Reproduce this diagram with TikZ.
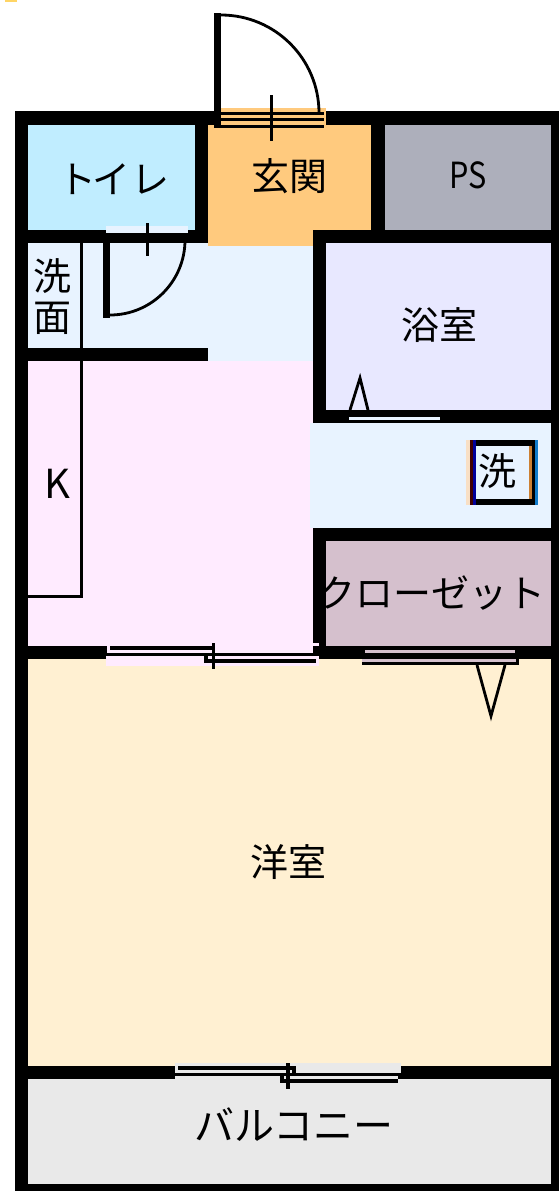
\documentclass[tikz,border=0pt]{standalone}
\usepackage{fontspec}
\setmainfont{Noto Sans CJK JP}
\definecolor{toiletc}{HTML}{C0EDFF}
\definecolor{genkanc}{HTML}{FFCA7E}
\definecolor{psc}{HTML}{ADAFBB}
\definecolor{bathc}{HTML}{E8E8FF}
\definecolor{hallc}{HTML}{E8F3FF}
\definecolor{kitc}{HTML}{FFEBFF}
\definecolor{closetc}{HTML}{D5C0CD}
\definecolor{roomc}{HTML}{FFF0D2}
\definecolor{balc}{HTML}{E9E9E9}
\tikzset{
  wall/.style={fill=black,draw=none},
  area/.style={draw=none},
  thinline/.style={draw=black,line width=3pt,line cap=butt},
  swing/.style={draw=black,line width=2.8pt},
  label/.style={inner sep=0pt,text=black,font=\fontsize{38}{38}\selectfont},
}
\begin{document}
\begin{tikzpicture}[x=1pt,y=-1pt]
\useasboundingbox (0,0) rectangle (559,1191);
% small mark at top left
\fill[fill=genkanc!80!yellow] (5,0) rectangle (17,2);
% outer wall
\fill[wall] (15,111) rectangle (559,1191);
% rooms
\fill[area,toiletc] (28,125) rectangle (195,230);
\fill[area,genkanc] (208,125) rectangle (371,246);
\fill[area,psc] (385,125) rectangle (551,230);
\fill[area,hallc] (28,243) rectangle (313,364);
\fill[area,genkanc] (208,125) rectangle (313,246);
\fill[area,kitc] (28,361) rectangle (313,646);
\fill[area,kitc] (208,364) rectangle (313,650);
\fill[area,kitc] (107,646) rectangle (319,659);
\fill[area,bathc] (326,243) rectangle (551,410);
\fill[area,hallc] (310,423) rectangle (551,528);
\fill[area,closetc] (326,541) rectangle (551,646);
\fill[area,roomc] (28,659) rectangle (551,1066);
\fill[area,balc] (28,1079) rectangle (551,1184);
% inner walls
\fill[wall] (195,125) rectangle (208,243);
\fill[wall] (371,125) rectangle (385,230);
\fill[wall] (28,230) rectangle (208,243);
\fill[wall] (313,230) rectangle (551,243);
\fill[wall] (28,348) rectangle (208,361);
\fill[wall] (313,243) rectangle (326,423);
\fill[wall] (313,410) rectangle (551,423);
\fill[wall] (313,528) rectangle (551,541);
\fill[wall] (313,541) rectangle (326,653);
\fill[wall] (326,646) rectangle (551,659);
% hall patch beside wall end
\fill[area,kitc] (208,361) rectangle (313,364);
% kitchen counter line
\draw[thinline] (81,243) -- (81,596) -- (28,596);
% entrance door
\fill[area,genkanc] (221,108) rectangle (326,125);
\fill[wall] (221,112) rectangle (324,115);
\fill[wall] (221,118) rectangle (324,121);
\fill[wall] (214,125) rectangle (324,128);
\fill[wall] (214,13) rectangle (221,128);
\draw[swing] (221,15) arc[start angle=-90,end angle=0,radius=98];
\coordinate (entA) at (271,95);
\coordinate (entB) at (271,141);
\draw[thinline] (entA) -- (entB);
% toilet door
\fill[area,hallc] (106,226) rectangle (188,233);
\fill[wall] (103,243) rectangle (110,318);
\draw[swing] (110,315) arc[start angle=90,end angle=0,radius=75];
\coordinate (wcA) at (147,223);
\coordinate (wcB) at (147,256);
\draw[thinline] (wcA) -- (wcB);
% bath door
\fill[area,bathc] (345,408) rectangle (443,410);
\fill[area,hallc] (349,417) rectangle (440,420);
\draw[swing] (350,410) -- (360,378) -- (368,410);
% laundry box
\fill[fill=balc!60!orange!50!white] (466,440) rectangle (470,505);
\fill[fill=black!75!red] (470,440) rectangle (473,505);
\fill[fill=blue!60!black] (473,440) rectangle (476,505);
\fill[fill=black] (476,440) rectangle (535,505);
\fill[fill=cyan!10!white] (476,446) rectangle (479,499);
\fill[fill=hallc] (479,446) rectangle (529,499);
\fill[fill=orange!60!gray] (529,446) rectangle (532,499);
\fill[fill=cyan!60!blue] (535,440) rectangle (538,505);
% closet door
\fill[area,closetc] (365,650) rectangle (515,653);
\fill[area,closetc] (362,659) rectangle (518,662);
\fill[wall] (362,662) rectangle (519,665);
\fill[wall] (516,650) rectangle (519,665);
\draw[swing] (477,665) -- (491,716) -- (505,665);
% kitchen sliding door
\fill[area,kitc] (106,656) rectangle (319,666);
\fill[area,kitc] (107,643) rectangle (319,646);
\fill[area,kitc] (110,650) rectangle (213,653);
\fill[wall] (110,646) rectangle (213,650);
\fill[wall] (106,653) rectangle (319,656);
\fill[wall] (204,659) rectangle (316,663);
\fill[wall] (204,656) rectangle (208,663);
\coordinate (kdA) at (213,643);
\coordinate (kdB) at (213,669);
\draw[thinline] (kdA) -- (kdB);
% balcony sliding door
\fill[area,balc] (175,1063) rectangle (401,1073);
\fill[area,balc] (175,1076) rectangle (398,1079);
\fill[wall] (178,1066) rectangle (296,1070);
\fill[wall] (175,1073) rectangle (395,1076);
\fill[wall] (280,1079) rectangle (398,1083);
\fill[wall] (280,1076) rectangle (284,1083);
\fill[wall] (292,1066) rectangle (296,1073);
\coordinate (bdA) at (288,1063);
\coordinate (bdB) at (288,1089);
\draw[line width=4pt] (bdA) -- (bdB);
% labels
\node[label] (wc) at (114,179) {ト\kern-4ptイ\kern 2ptレ};
\node[label] (genkan) at (289,176) {玄関};
\node[label,font=\fontsize{36}{36}\selectfont,xscale=.85] (ps) at (468,175) {PS};
\node[label,align=center,font=\fontsize{38}{41}\selectfont] (senmen) at (52,297) {洗\\面};
\node[label] (bath) at (439,325) {浴室};
\node[label,font=\fontsize{40}{40}\selectfont] (kit) at (57,484) {K};
\node[label] (wash) at (497,471) {洗};
\node[label,font=\fontsize{38}{38}\selectfont] (closet) at (431,593) {クローゼット};
\node[label] (room) at (288,862) {洋室};
\node[label,font=\fontsize{40}{40}\selectfont] (balcony) at (294,1125) {バルコニー};
\end{tikzpicture}
\end{document}
